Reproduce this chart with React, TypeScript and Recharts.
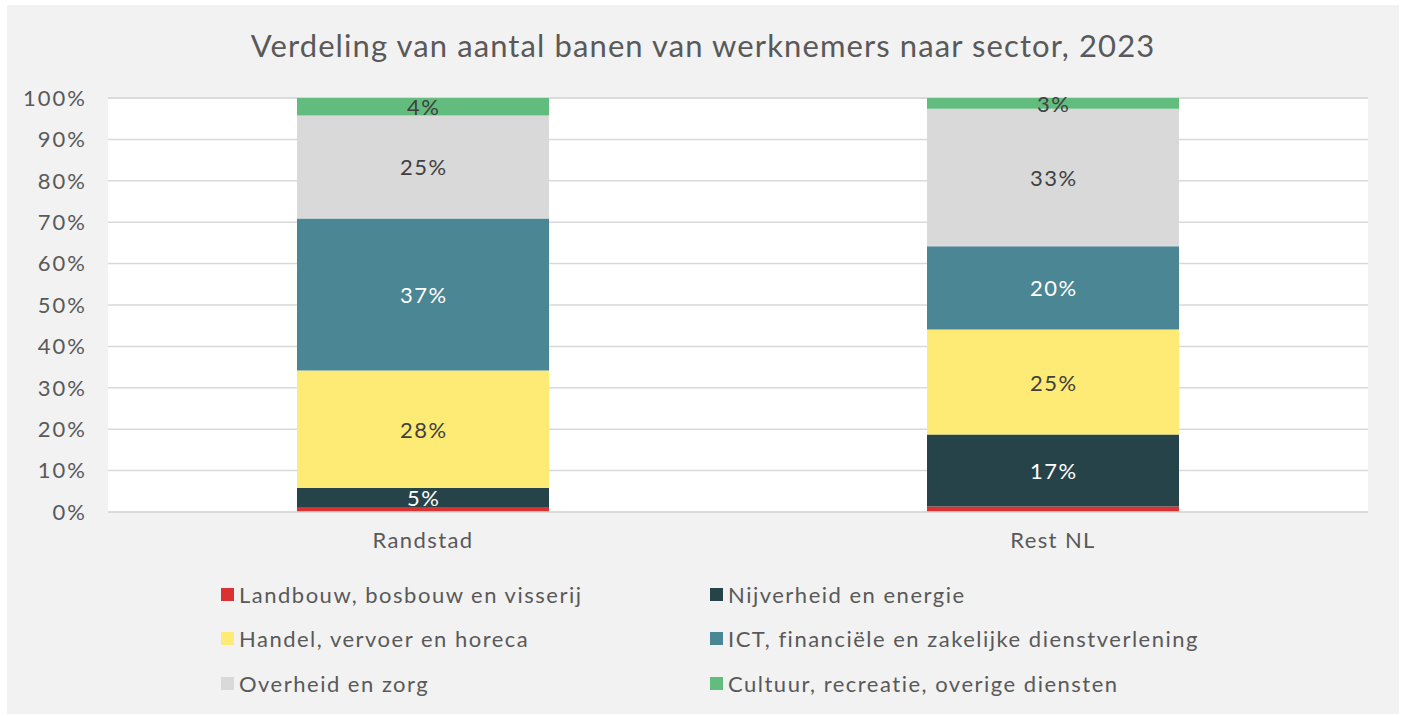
import React from 'react';
import { BarChart, Bar, XAxis, YAxis, CartesianGrid, Legend, LabelList } from 'recharts';

const categories = ['Randstad', 'Rest NL'];
const landbouw = [1.0, 1.3];
const nijverheid = [4.8, 17.4];
const handel = [28.4, 25.4];
const ict = [36.7, 20.1];
const overheid = [24.9, 33.2];
const cultuur = [4.2, 2.6];
const yTicks = [0, 10, 20, 30, 40, 50, 60, 70, 80, 90, 100];

const series = [
  { key: 'landbouw', name: 'Landbouw, bosbouw en visserij', color: '#d93232', values: landbouw, labelColor: '#ffffff' },
  { key: 'nijverheid', name: 'Nijverheid en energie', color: '#264349', values: nijverheid, labelColor: '#ffffff' },
  { key: 'handel', name: 'Handel, vervoer en horeca', color: '#fdeb76', values: handel, labelColor: '#404040' },
  { key: 'ict', name: 'ICT, financiële en zakelijke dienstverlening', color: '#4a8694', values: ict, labelColor: '#ffffff' },
  { key: 'overheid', name: 'Overheid en zorg', color: '#d9d9d9', values: overheid, labelColor: '#404040' },
  { key: 'cultuur', name: 'Cultuur, recreatie, overige diensten', color: '#62bc7e', values: cultuur, labelColor: '#404040' },
];

const data = categories.map((c, i) => {
  const row: Record<string, any> = { name: c };
  series.forEach((s) => {
    row[s.key] = s.values[i];
  });
  return row;
});

const FONT = 'Lato, "Open Sans", sans-serif';

const makeLabel = (color: string) => (props: any) => {
  const { x, y, width, height, value } = props;
  if (value < 2) return null;
  return (
    <text
      x={x + width / 2 + 0.75}
      y={y + height / 2}
      textAnchor="middle"
      dominantBaseline="central"
      fill={color}
      fontSize={22}
      letterSpacing={1.5}
      fontFamily={FONT}
    >
      {Math.round(value)}%
    </text>
  );
};

const LegendContent = () => {
  const colX = [214, 703];
  const rowY = [32.5, 76.5, 121.5];
  return (
    <div style={{ position: 'relative', width: 1392, height: 130, fontFamily: FONT }}>
      {series.map((s, i) => {
        const col = i % 2;
        const row = Math.floor(i / 2);
        return (
          <div
            key={s.key}
            style={{
              position: 'absolute',
              left: colX[col],
              top: rowY[row] - 15,
              height: 30,
              display: 'flex',
              alignItems: 'center',
              whiteSpace: 'nowrap',
            }}
          >
            <span style={{ display: 'inline-block', width: 13, height: 13, background: s.color, marginRight: 5 }} />
            <span style={{ fontSize: 22, letterSpacing: 1.5, color: '#595959' }}>{s.name}</span>
          </div>
        );
      })}
    </div>
  );
};

export default function App() {
  return (
    <div
      style={{
        position: 'absolute',
        left: 7,
        top: 5,
        width: 1392,
        height: 709,
        background: '#f2f2f2',
        fontFamily: FONT,
      }}
    >
      <div
        style={{
          position: 'absolute',
          left: 0,
          top: 21,
          width: 1392,
          textAlign: 'center',
          fontSize: 31,
          letterSpacing: 1.1,
          color: '#595959',
          fontFamily: FONT,
        }}
      >
        Verdeling van aantal banen van werknemers naar sector, 2023
      </div>
      <BarChart
        width={1392}
        height={709}
        data={data}
        margin={{ top: 93, right: 31, left: 0, bottom: 22 }}
        barCategoryGap="30%"
      >
        <CartesianGrid vertical={false} stroke="#d9d9d9" strokeWidth={1.5} fill="#ffffff" />
        <XAxis
          dataKey="name"
          height={50}
          tickLine={false}
          tickSize={0}
          tickMargin={20}
          axisLine={{ stroke: '#d9d9d9', strokeWidth: 1.5 }}
          tick={{ fill: '#595959', fontSize: 22, fontFamily: FONT, letterSpacing: 1.4 }}
        />
        <YAxis
          width={101}
          domain={[0, 100]}
          ticks={yTicks}
          tickFormatter={(v: number) => `${v}%`}
          tickLine={false}
          axisLine={false}
          tickSize={0}
          tickMargin={21}
          tick={{ fill: '#595959', fontSize: 22, fontFamily: FONT, letterSpacing: 2 }}
          interval={0}
        />
        <Legend verticalAlign="bottom" height={130} wrapperStyle={{ left: 0, width: 1392 }} content={() => <LegendContent />} />
        {series.map((s) => (
          <Bar key={s.key} dataKey={s.key} name={s.name} stackId="a" fill={s.color} isAnimationActive={false}>
            <LabelList dataKey={s.key} content={makeLabel(s.labelColor)} />
          </Bar>
        ))}
      </BarChart>
    </div>
  );
}
